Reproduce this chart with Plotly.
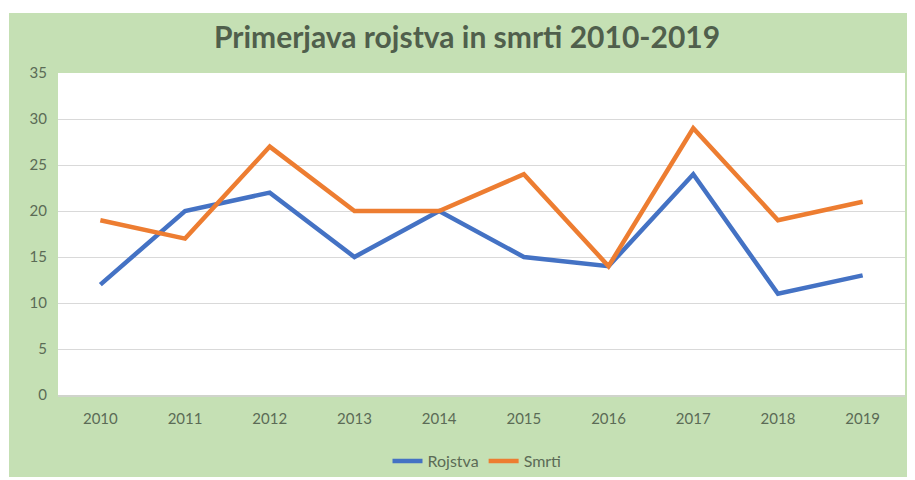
import plotly.graph_objects as go

years = ["2010", "2011", "2012", "2013", "2014", "2015", "2016", "2017", "2018", "2019"]
rojstva = [12, 20, 22, 15, 20, 15, 14, 24, 11, 13]
smrti = [19, 17, 27, 20, 20, 24, 14, 29, 19, 21]
y_ticks = [0, 5, 10, 15, 20, 25, 30, 35]

# page body has an 8px margin; work in page pixels and offset
OFF = 8
W, H = 915 - OFF, 480 - OFF
L, R, T, B = 58 - OFF, 915 - 905, 73 - OFF, 480 - 395
pw, ph = W - L - R, H - T - B

def px_x(x):
    return (x - OFF - L) / pw

def px_y(y):
    return (H - B - (y - OFF)) / ph

fig = go.Figure()
fig.add_trace(go.Scatter(x=years, y=rojstva, mode="lines", name="Rojstva",
                         line=dict(color="#4472C4", width=4.5)))
fig.add_trace(go.Scatter(x=years, y=smrti, mode="lines", name="Smrti",
                         line=dict(color="#ED7D31", width=4.5)))

fig.add_shape(type="rect", xref="paper", yref="paper",
              x0=px_x(9), x1=px_x(912), y0=px_y(477), y1=px_y(13),
              fillcolor="#C5E0B4", line=dict(width=0), layer="below")
fig.add_shape(type="rect", xref="paper", yref="paper",
              x0=0, x1=1, y0=0, y1=1,
              fillcolor="white", line=dict(width=0), layer="below")

tick_font = dict(family="Lato, Open Sans, sans-serif", size=15, color="#5B6B56")

fig.update_layout(
    width=W, height=H,
    margin=dict(l=L, r=R, t=T, b=B, autoexpand=False),
    paper_bgcolor="white",
    plot_bgcolor="white",
    title=dict(text="<b>Primerjava rojstva in smrti 2010-2019</b>",
               xref="container", x=(467 - OFF) / W, xanchor="center",
               yref="container", y=1 - (37 - OFF) / H, yanchor="middle",
               font=dict(family="Lato, Open Sans, sans-serif", size=30, color="#505F4C")),
    showlegend=True,
    legend=dict(orientation="h", x=px_x(477), xanchor="center", y=px_y(461), yanchor="middle",
                font=dict(family="Lato, Open Sans, sans-serif", size=16, color="#5B6B56"),
                bgcolor="rgba(0,0,0,0)", itemwidth=30),
    xaxis=dict(type="category", range=[-0.5, 9.5], showgrid=False, showline=True,
               linecolor="#D0D4CC", linewidth=1.5, automargin=False,
               ticks="", tickfont=tick_font, ticklabelstandoff=9, zeroline=False),
    yaxis=dict(range=[0, 35], tickvals=y_ticks, showgrid=True, gridcolor="#D9D9D9", gridwidth=1,
               automargin=False,
               zeroline=False, showline=False, ticks="", tickfont=tick_font, ticklabelstandoff=10),
)

fig.write_html("out.html")
